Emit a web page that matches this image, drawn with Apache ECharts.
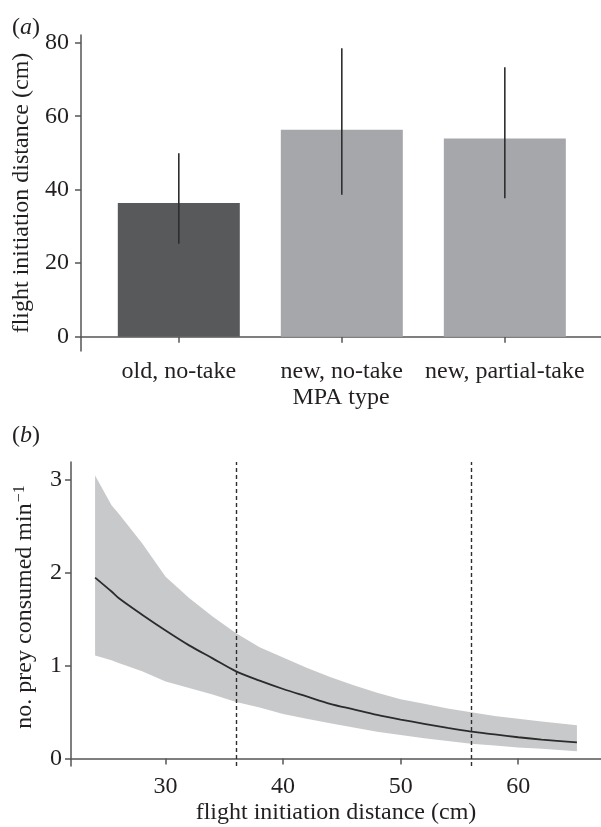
<!DOCTYPE html>
<html>
<head>
<meta charset="utf-8">
<script src="https://cdn.jsdelivr.net/npm/echarts@6/dist/echarts.min.js"></script>
<style>
  html, body { margin: 0; padding: 0; background: #ffffff; }
  #chart { width: 601px; height: 827px; }
</style>
</head>
<body>
<div id="chart"></div>
<script>
// ---------- Panel (a) data ----------
const categories = ['old, no-take', 'new, no-take', 'new, partial-take'];
const categoryPos = [1, 2, 3];
const meanFID = [36.4, 56.3, 53.9];
const errLow = [25.3, 38.6, 37.7];
const errHigh = [49.9, 78.5, 73.3];
const yTicksA = [0, 20, 40, 60, 80];

// ---------- Panel (b) data ----------
const fidX      = [24, 25.4, 26, 28, 30, 32, 34, 36, 38, 40, 42, 44, 46, 48, 50, 52, 54, 56, 58, 60, 62, 65];
const preyFit   = [1.95, 1.80, 1.73, 1.55, 1.38, 1.22, 1.08, 0.94, 0.84, 0.75, 0.67, 0.59, 0.53, 0.47, 0.42, 0.375, 0.33, 0.29, 0.26, 0.23, 0.205, 0.175];
const preyUpper = [3.05, 2.73, 2.64, 2.32, 1.96, 1.73, 1.53, 1.35, 1.20, 1.09, 0.98, 0.88, 0.79, 0.71, 0.64, 0.59, 0.54, 0.50, 0.46, 0.43, 0.40, 0.36];
const preyLower = [1.11, 1.06, 1.03, 0.94, 0.83, 0.76, 0.69, 0.61, 0.55, 0.48, 0.43, 0.38, 0.335, 0.29, 0.255, 0.22, 0.19, 0.16, 0.14, 0.12, 0.105, 0.08];
const refLines = [36, 56];
const yTicksB = [0, 1, 2, 3];
const xTicksB = [30, 40, 50, 60];

const FONT = 'Liberation Serif';
const TXT = '#231f20';
const AX = '#555555';
const FS = 24;

const axisLineStyle = { show: true, lineStyle: { color: AX, width: 1.5 } };
const tickStyle = { show: true, length: 6, lineStyle: { color: AX, width: 1.5 } };

const chart = echarts.init(document.getElementById('chart'), null, { renderer: 'canvas' });

const option = {
  backgroundColor: '#ffffff',
  animation: false,
  title: [
    { text: '({i|a})', left: 7, top: 11,
      textStyle: { fontFamily: FONT, fontSize: FS, fontWeight: 'normal', color: TXT,
        rich: { i: { fontFamily: FONT, fontSize: FS, fontStyle: 'italic', color: TXT } } } },
    { text: '({i|b})', left: 7, top: 419,
      textStyle: { fontFamily: FONT, fontSize: FS, fontWeight: 'normal', color: TXT,
        rich: { i: { fontFamily: FONT, fontSize: FS, fontStyle: 'italic', color: TXT } } } }
  ],
  grid: [
    { left: 81, right: 0, top: 35, height: 316 },
    { left: 71, right: 0, top: 462, height: 304 }
  ],
  xAxis: [
    {
      type: 'value', gridIndex: 0, min: 0.4, max: 3.59,
      axisLine: axisLineStyle,
      axisTick: Object.assign({ customValues: categoryPos }, tickStyle),
      axisLabel: { customValues: categoryPos, margin: 9, fontFamily: FONT, fontSize: FS, color: TXT,
        formatter: v => categories[Math.round(v) - 1] || '' },
      splitLine: { show: false },
      name: 'MPA type', nameLocation: 'middle', nameGap: 35,
      nameTextStyle: { fontFamily: FONT, fontSize: FS, color: TXT }
    },
    {
      type: 'value', gridIndex: 1, min: 21.95, max: 67.05,
      axisLine: axisLineStyle,
      axisTick: Object.assign({ customValues: xTicksB }, tickStyle),
      axisLabel: { customValues: xTicksB, margin: 9, fontFamily: FONT, fontSize: FS, color: TXT },
      splitLine: { show: false },
      name: 'flight initiation distance (cm)', nameLocation: 'middle', nameGap: 35,
      nameTextStyle: { fontFamily: FONT, fontSize: FS, color: TXT }
    }
  ],
  yAxis: [
    {
      type: 'value', gridIndex: 0, min: -3.9, max: 82.1,
      axisLine: axisLineStyle,
      axisTick: Object.assign({ customValues: yTicksA }, tickStyle),
      axisLabel: { customValues: yTicksA, margin: 12, fontFamily: FONT, fontSize: FS, color: TXT },
      splitLine: { show: false },
      name: 'flight initiation distance (cm)', nameLocation: 'middle', nameGap: 43,
      nameTextStyle: { fontFamily: FONT, fontSize: FS, color: TXT }
    },
    {
      type: 'value', gridIndex: 1, min: -0.08, max: 3.196,
      axisLine: axisLineStyle,
      axisTick: Object.assign({ customValues: yTicksB }, tickStyle),
      axisLabel: { customValues: yTicksB, margin: 9, fontFamily: FONT, fontSize: FS, color: TXT },
      splitLine: { show: false },
      name: 'no. prey consumed min{sup|−1}', nameLocation: 'middle', nameGap: 33,
      nameTextStyle: { fontFamily: FONT, fontSize: FS, color: TXT, lineHeight: 26, padding: [0, 0, 0, 14],
        rich: { sup: { fontFamily: FONT, fontSize: 16, color: TXT, verticalAlign: 'top', lineHeight: 26, padding: [0, 0, 10, 1] } } }
    }
  ],
  series: [
    {
      type: 'bar', xAxisIndex: 0, yAxisIndex: 0, barWidth: 122,
      data: categoryPos.map((p, i) => ({
        value: [p, meanFID[i]],
        itemStyle: { color: i === 0 ? '#58595b' : '#a6a7aa' }
      })),
      z: 2
    },
    {
      type: 'custom', xAxisIndex: 0, yAxisIndex: 0,
      data: categoryPos.map((p, i) => [p, errLow[i], errHigh[i]]),
      encode: { x: 0, y: [1, 2] },
      renderItem: function (params, api) {
        const a = api.coord([api.value(0), api.value(1)]);
        const b = api.coord([api.value(0), api.value(2)]);
        return { type: 'line', shape: { x1: a[0], y1: a[1], x2: b[0], y2: b[1] },
          style: { stroke: '#2e2e2e', lineWidth: 1.6 } };
      },
      z: 3
    },
    {
      type: 'custom', xAxisIndex: 1, yAxisIndex: 1,
      data: [[fidX[0], preyFit[0]]],
      renderItem: function (params, api) {
        const pts = [];
        for (let i = 0; i < fidX.length; i++) pts.push(api.coord([fidX[i], preyUpper[i]]));
        for (let i = fidX.length - 1; i >= 0; i--) pts.push(api.coord([fidX[i], preyLower[i]]));
        return { type: 'polygon', shape: { points: pts }, style: { fill: '#c8c9cb' } };
      },
      z: 1
    },
    {
      type: 'line', xAxisIndex: 1, yAxisIndex: 1,
      data: fidX.map((x, i) => [x, preyFit[i]]),
      smooth: 0.3, showSymbol: false, symbol: 'none',
      lineStyle: { color: '#2b2b2b', width: 1.8 },
      markLine: {
        silent: true, symbol: ['none', 'none'], label: { show: false },
        lineStyle: { type: [4, 3], color: '#2e2e2e', width: 1.4 },
        data: refLines.map(v => ({ xAxis: v }))
      },
      z: 3
    }
  ]
};
chart.setOption(option);
</script>
</body>
</html>
